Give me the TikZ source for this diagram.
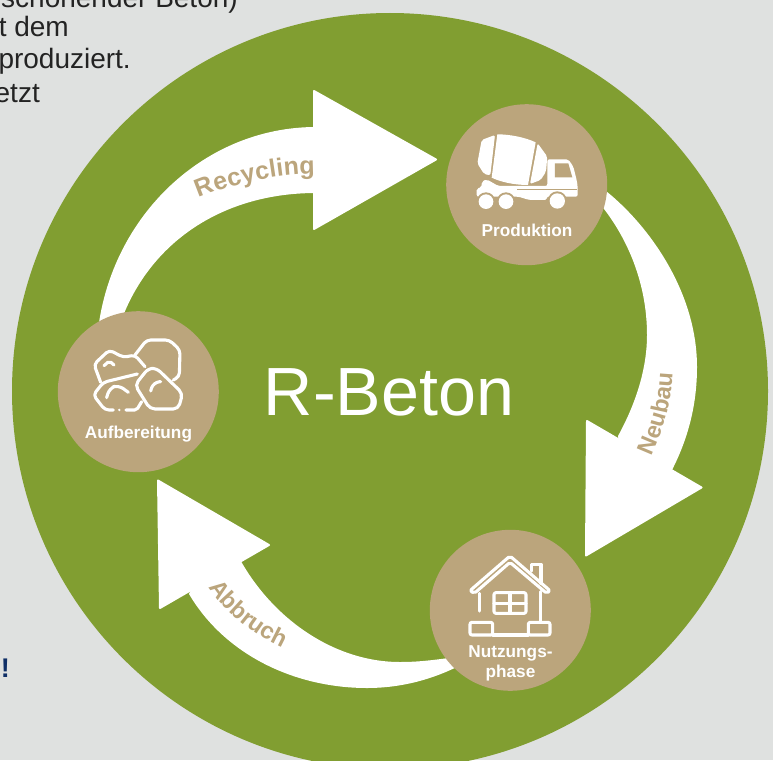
\documentclass[tikz,border=0pt]{standalone}
\usepackage{fontspec}
\setmainfont{Liberation Sans}
\usetikzlibrary{decorations.text}
\definecolor{bg}{HTML}{DFE1E0}
\definecolor{grn}{HTML}{819E31}
\definecolor{tan}{HTML}{BBA57C}
\definecolor{navy}{HTML}{0F2F66}
\definecolor{ink}{HTML}{232323}
\tikzset{
  hub/.style={circle,fill=tan,minimum size=161pt,inner sep=0pt},
  hublabel/.style={text=white,font=\fontsize{17.2}{20.5}\selectfont\bfseries,align=center,inner sep=0pt},
  para/.style={text=ink,font=\fontsize{28}{33}\selectfont,inner sep=0pt,anchor=base east},
  head/.style={fill=white,draw=white,line width=2pt,line join=round},
  arclabel/.style n args={2}{decorate,decoration={text along path,text align={fit to path},
     text color=tan,text={|\fontsize{#1}{#1}\selectfont\bfseries|#2}}},
  iconline/.style={draw=white,line width=3.1pt,line cap=round,line join=round,rounded corners=2pt},
}
\begin{document}
\begin{tikzpicture}[x=1pt,y=-1pt]
\clip (0,0) rectangle (773,760);
\fill[bg] (0,0) rectangle (773,760);
% text behind
\node[para] (t1) at (238,8) {schonender Beton)};
\node[para] (t2) at (69,37) {t dem};
\node[para] (t3) at (131,69) {produziert.};
\node[para] (t4) at (40,102) {etzt};
\node[text=navy,font=\fontsize{27}{30}\selectfont\bfseries,inner sep=0pt,anchor=base east] (ex) at (10,677) {!};
% disc
\node[circle,fill=grn,minimum size=756pt,inner sep=0pt] (disc) at (390,391) {};
% arrows
\fill[white] (98,330) .. controls (112,215) and (205,127) .. (316,127) -- (316,193)
  .. controls (220,193) and (145,245) .. (118,330) -- cycle;
\draw[head] (314,91) -- (436,159.5) -- (314,229) -- cycle;
\fill[white] (598,185) .. controls (640,215) and (697,285) .. (697,367) .. controls (697,405) and (688,438) .. (673,468)
  -- (665,485) -- (622,462) -- (618,436) .. controls (635,405) and (647,370) .. (647,335) .. controls (647,280) and (625,232) .. (595,198) -- cycle;
\draw[head] (587,421) -- (701.5,487.5) -- (586,555.5) -- cycle;
\fill[white] (470,660) .. controls (435,680) and (400,688) .. (367,688) .. controls (295,688) and (225,655) .. (189,594)
  -- (200,570) -- (235,550) -- (242,563) .. controls (275,620) and (335,662) .. (400,662) .. controls (420,662) and (435,660) .. (470,655) -- cycle;
\draw[head] (158,480.5) -- (269,545) -- (160,608) -- cycle;
% arrow labels
\path[arclabel={25}{Recycling}] (199,198) .. controls (230,185) and (272,174) .. (315,174);
\path[arclabel={23.5}{Neubau}] (651.5,456) .. controls (663.5,430) and (671.5,402) .. (672.5,373);
\path[arclabel={23.5}{Abbruch}] (209,587) .. controls (225,612) and (250,632) .. (276,645);
% hubs
\node[hub] (prod) at (526.7,184.7) {};
\node[hub] (auf) at (138.3,391.7) {};
\node[hub] (nutz) at (510.3,610.3) {};
\node[text=white,font=\fontsize{68.2}{70}\selectfont,inner sep=0pt] (title) at (389,392) {R-Beton};
\node[hublabel] (lprod) at (527,230) {Produktion};
\node[hublabel] (lauf) at (138.5,434.5) {Aufbereitung};
\node[hublabel] (lnutz) at (510.5,663.5) {Nutzungs-\\phase};
% truck
\begin{scope}[shift={(440,100)},x=.3333pt,y=-.3333pt]
  \fill[white,rounded corners=2pt] (125,120) -- (165,105) -- (151,226) -- (132,222) -- (112,190) -- cycle;
  \fill[white] (172,103) .. controls (210,103) and (255,112) .. (287,127) -- (264,255) .. controls (220,255) and (180,245) .. (155,233) -- cycle;
  \fill[white,rounded corners=2pt] (293,130) -- (322,170) -- (318,215) -- (302,240) -- (270,252) -- cycle;
  \fill[white,rounded corners=2pt] (125,245) -- (140,238) -- (175,258) -- (322,258) -- (322,178) -- (385,178) -- (400,200) -- (410,240) -- (413,258) -- (413,290) -- (320,290) -- (320,300) -- (268,300) -- (235,290) -- (110,290) -- (110,265) -- (125,262) -- cycle;
  \fill[tan] (345,190) -- (385,190) -- (397,232) -- (345,232) -- cycle;
  \fill[tan] (230,267) -- (412,267) -- (412,271) -- (230,271) -- cycle;
  \fill[tan] (138,305) circle[radius=28] (198,305) circle[radius=28] (352,303) circle[radius=29];
  \fill[white] (138,305) circle[radius=22] (198,305) circle[radius=22] (352,303) circle[radius=23];
\end{scope}
% rocks
\begin{scope}[shift={(50,305)},x=.3333pt,y=-.3333pt]
  \draw[iconline,rounded corners=4pt] (255,150) -- (290,105) -- (358,105) -- (390,135) -- (388,215) -- (370,225);
  \draw[iconline,rounded corners=4pt] (152,232) -- (132,178) -- (178,135) -- (220,157) -- (255,150) -- (285,185);
  \draw[iconline,rounded corners=4pt] (190,315) -- (165,315) -- (130,270) -- (160,232) -- (262,207);
  \draw[iconline] (228,315) -- (260,315) -- (275,290);
  \fill[white] (208,315) circle[radius=4];
  \draw[iconline,rounded corners=5pt] (255,240) -- (295,190) -- (320,190) -- (398,265) -- (385,312) -- (300,312) -- cycle;
  \draw[iconline] (162,182) -- (178,168) -- (192,180);
  \draw[iconline,rounded corners=6pt] (170,278) -- (178,250) -- (205,240) -- (235,262);
  \draw[iconline,rounded corners=6pt] (302,258) -- (310,232) -- (332,230);
\end{scope}
% house
\begin{scope}[shift={(425,525)},x=.3333pt,y=-.3333pt]
  \draw[iconline] (135,197) -- (255,93) -- (375,197) -- (365,205) -- (255,112) -- (148,205) -- cycle;
  \draw[iconline,rounded corners=0pt] (320,138) -- (320,118) -- (348,118) -- (348,175);
  \draw[iconline] (163,205) -- (163,258);
  \draw[iconline] (347,200) -- (347,288);
  \draw[iconline] (207,203) rectangle (303,265);
  \draw[iconline] (255,203) -- (255,265) (207,235) -- (303,235);
  \draw[iconline] (135,292) rectangle (203,330);
  \draw[iconline] (310,292) rectangle (375,330);
  \draw[iconline] (203,330) -- (310,330);
\end{scope}
\end{tikzpicture}
\end{document}
